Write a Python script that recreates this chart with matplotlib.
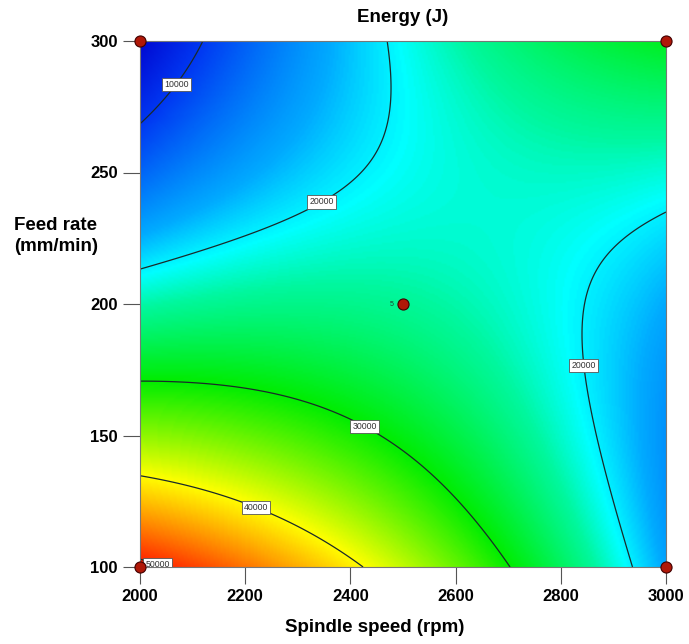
import numpy as np
import matplotlib
matplotlib.use("Agg")
import matplotlib.pyplot as plt
from matplotlib.colors import LinearSegmentedColormap

# ---- data ----
# Quadratic response-surface model (coded units)
coef_names = ["b0", "b1", "b2", "b12", "b11", "b22"]
coef_values = [23600, -2800, -8400, 14200, -3500, 5500]
speed_range = [2000, 3000]          # Spindle speed (rpm)
feed_range = [100, 300]             # Feed rate (mm/min)
contour_levels = [10000, 20000, 30000, 40000, 50000]
label_positions = [(2066, 284), (2345, 239), (2836, 176.5), (2429, 154), (2223, 124), (2036, 102.7)]
design_speed = [2000, 3000, 2000, 3000, 2500]
design_feed = [100, 100, 300, 300, 200]
center_label = "5"
x_ticks = [2000, 2200, 2400, 2600, 2800, 3000]
y_ticks = [100, 150, 200, 250, 300]

plt.rcParams['font.family'] = ['Liberation Sans', 'DejaVu Sans']

fig = plt.figure(figsize=(6.89, 6.44), dpi=100)
ax = fig.add_axes([140/689, 1-567/644, 526/689, 526/644])

S = np.linspace(speed_range[0], speed_range[1], 300)
F = np.linspace(feed_range[0], feed_range[1], 300)
SS, FF = np.meshgrid(S, F)
x = (SS - np.mean(speed_range)) / ((speed_range[1]-speed_range[0])/2)
y = (FF - np.mean(feed_range)) / ((feed_range[1]-feed_range[0])/2)
c = dict(zip(coef_names, coef_values))
E = c["b0"] + c["b1"]*x + c["b2"]*y + c["b12"]*x*y + c["b11"]*x**2 + c["b22"]*y**2

vmin, vmax = 5000, 51500
def nrm(v):
    return (v - vmin) / (vmax - vmin)
cmap = LinearSegmentedColormap.from_list("de", [
    (0.0, (0.0, 0.0, 0.80)),
    (nrm(10000), (0.0, 0.22, 0.95)),
    (nrm(17300), (0.0, 0.67, 1.0)),
    (nrm(20500), (0.0, 1.0, 1.0)),
    (nrm(23200), (0.0, 0.97, 0.62)),
    (nrm(30000), (0.0, 0.93, 0.0)),
    (nrm(40000), (1.0, 1.0, 0.0)),
    (1.0, (1.0, 0.05, 0.0)),
])

ax.imshow(E, origin="lower", extent=[speed_range[0], speed_range[1], feed_range[0], feed_range[1]],
          cmap=cmap, vmin=vmin, vmax=vmax, aspect="auto", interpolation="bilinear")
cs = ax.contour(SS, FF, E, levels=contour_levels, colors="#1a2a2a", linewidths=0.9)
texts = ax.clabel(cs, inline=False, fontsize=6.3, fmt="%d", manual=label_positions)
for t in texts:
    t.set_rotation(0)
    t.set_bbox(dict(boxstyle="square,pad=0.25", fc="white", ec="#555555", lw=0.6))
    t.set_color("#333333")
    t.set_zorder(5)

ax.plot(design_speed, design_feed, "o", color="#b01808", mec="#400000", mew=0.8, ms=8,
        clip_on=False, zorder=6)
ax.text(design_speed[-1] - 22, design_feed[-1], center_label, fontsize=5, color="#204030",
        ha="center", va="center", zorder=6)

ax.set_xlim(speed_range)
ax.set_ylim(feed_range)
ax.set_xticks(x_ticks)
ax.set_yticks(y_ticks)
ax.tick_params(direction="out", length=12, width=0.8, color="#555555", labelsize=12, pad=4)
for lab in ax.get_xticklabels() + ax.get_yticklabels():
    lab.set_fontweight("bold")
for sp in ax.spines.values():
    sp.set_color("#777777")
    sp.set_linewidth(0.8)

fig.text(403/689, 1-18/644, "Energy (J)", ha="center", va="center", fontsize=13.5, fontweight="bold")
fig.text(375/689, 1-628/644, "Spindle speed (rpm)", ha="center", va="center", fontsize=13.5, fontweight="bold")
fig.text(14/689, 1-236/644, "Feed rate\n(mm/min)", ha="left", va="center", fontsize=13.5,
         fontweight="bold", linespacing=1.3)

fig.savefig("out.png", dpi=100)
